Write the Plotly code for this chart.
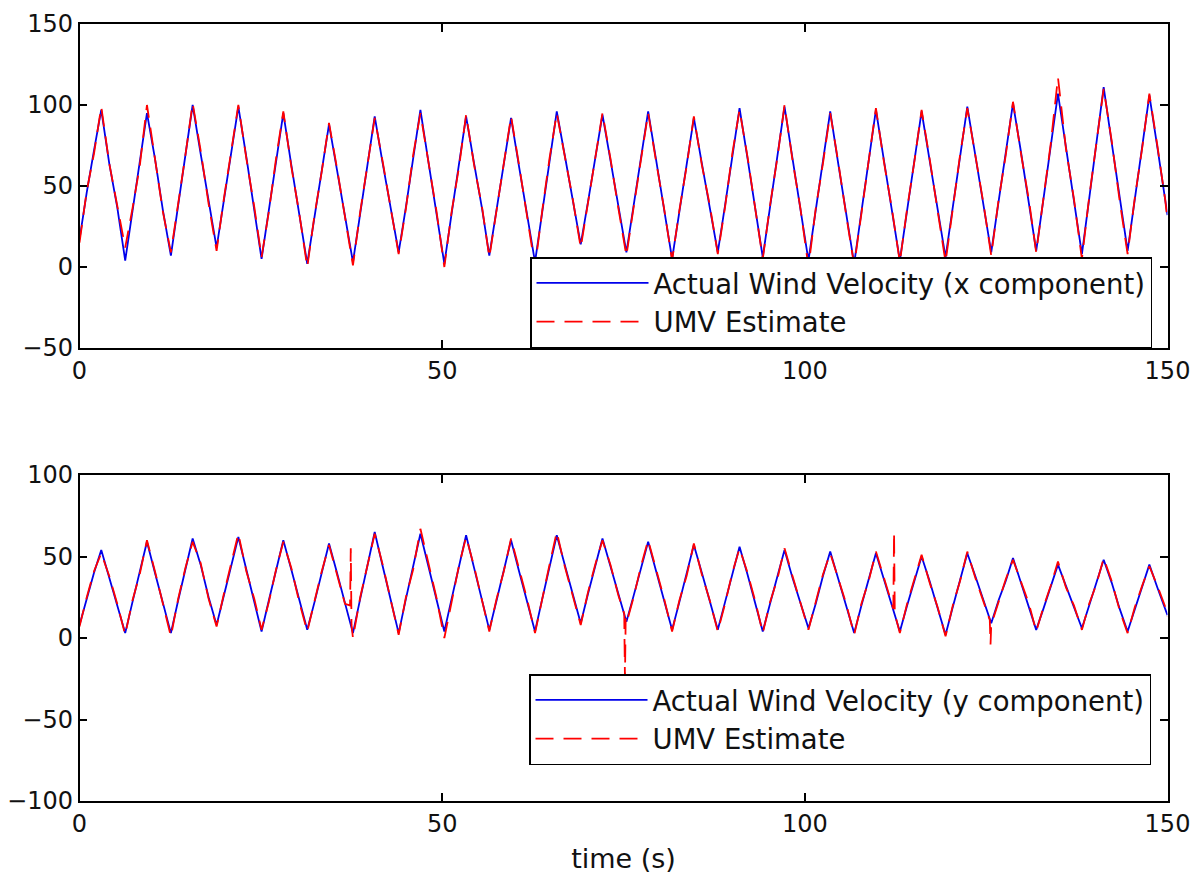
import plotly.graph_objects as go

# ---- top panel (x component) ----
t_x = [0.0, 1.0, 2.0, 3.0, 4.1, 5.2,
       6.3, 7.3, 8.3, 9.3, 10.4, 11.5,
       12.6, 13.6, 14.6, 15.6, 16.7, 17.8,
       18.9, 19.9, 20.9, 21.9, 23.0, 24.1,
       25.1, 26.1, 27.1, 28.1, 29.2, 30.3,
       31.4, 32.4, 33.4, 34.4, 35.5, 36.6,
       37.7, 38.7, 39.7, 40.7, 41.8, 42.9,
       44.0, 45.0, 46.0, 47.0, 48.1, 49.2,
       50.3, 51.3, 52.3, 53.3, 54.4, 55.5,
       56.5, 57.5, 58.5, 59.5, 60.6, 61.7,
       62.8, 63.8, 64.8, 65.8, 66.9, 68.0,
       69.1, 70.1, 71.1, 72.1, 73.2, 74.3,
       75.4, 76.4, 77.4, 78.4, 79.5, 80.6,
       81.7, 82.7, 83.7, 84.7, 85.8, 86.9,
       88.0, 89.0, 90.0, 91.0, 92.1, 93.2,
       94.2, 95.2, 96.2, 97.2, 98.3, 99.4,
       100.5, 101.5, 102.5, 103.5, 104.6, 105.7,
       106.8, 107.8, 108.8, 109.8, 110.9, 112.0,
       113.1, 114.1, 115.1, 116.1, 117.2, 118.3,
       119.4, 120.4, 121.4, 122.4, 123.5, 124.6,
       125.7, 126.7, 127.7, 128.7, 129.8, 130.9,
       131.9, 132.9, 133.9, 134.9, 136.0, 137.1,
       138.2, 139.2, 140.2, 141.2, 142.3, 143.4,
       144.5, 145.5, 146.5, 147.5, 148.6, 149.7,
       150.0]

actual_x = [17, 46, 72, 97, 64, 37,
            4, 34, 63, 95, 67, 35,
            7, 37, 70, 100, 70, 41,
            12, 41, 70, 99, 68, 36,
            5, 35, 66, 95, 63, 32,
            2, 31, 60, 88, 60, 31,
            3, 33, 62, 93, 64, 37,
            9, 37, 68, 97, 65, 34,
            2, 33, 62, 93, 64, 36,
            7, 35, 65, 92, 62, 32,
            3, 34, 66, 96, 69, 41,
            14, 40, 68, 94, 66, 37,
            9, 38, 66, 96, 66, 35,
            5, 34, 63, 92, 64, 37,
            9, 38, 69, 98, 67, 36,
            6, 37, 68, 99, 67, 35,
            4, 35, 65, 96, 64, 33,
            2, 34, 65, 97, 66, 35,
            4, 35, 66, 96, 66, 36,
            6, 37, 68, 99, 69, 39,
            9, 40, 70, 101, 71, 40,
            10, 42, 75, 107, 74, 41,
            8, 42, 77, 111, 77, 42,
            10, 42, 74, 106, 74, 42,
            32]

umv_x = [15, 47, 70, 99, 64, 38,
         12, 36, 62, 100, 66, 34,
         9, 38, 69, 101, 72, 39,
         10, 42, 71, 100, 67, 37,
         6, 34, 67, 96, 62, 33,
         0, 32, 59, 89, 61, 30,
         1, 34, 63, 92, 65, 36,
         8, 36, 69, 95, 64, 35,
         0, 34, 61, 94, 63, 37,
         6, 36, 64, 93, 63, 31,
         0, 35, 67, 95, 68, 42,
         12, 41, 67, 95, 67, 36,
         7, 37, 67, 95, 65, 36,
         4, 35, 62, 93, 63, 38,
         8, 37, 70, 97, 68, 35,
         5, 38, 67, 100, 66, 36,
         0, 36, 64, 95, 65, 32,
         1, 33, 66, 98, 65, 36,
         3, 36, 65, 97, 67, 35,
         3, 36, 69, 98, 68, 40,
         7, 41, 69, 102, 70, 41,
         9, 41, 76, 117, 73, 42,
         5, 43, 76, 110, 78, 41,
         8, 43, 73, 107, 75, 41,
         28]

# ---- bottom panel (y component) ----
t_y = [0.0, 1.0, 2.0, 3.0, 4.1, 5.2,
       6.3, 7.3, 8.3, 9.3, 10.4, 11.5,
       12.6, 13.6, 14.6, 15.6, 16.7, 17.8,
       18.9, 19.9, 20.9, 21.9, 23.0, 24.1,
       25.1, 26.1, 27.1, 28.1, 29.2, 30.3,
       31.4, 32.4, 33.4, 34.4, 35.5, 36.6, 37.3, 37.4, 37.5,
       37.7, 38.7, 39.7, 40.7, 41.8, 42.9,
       44.0, 45.0, 46.0, 47.0, 48.1, 49.2,
       50.3, 51.3, 52.3, 53.3, 54.4, 55.5,
       56.5, 57.5, 58.5, 59.5, 60.6, 61.7,
       62.8, 63.8, 64.8, 65.8, 66.9, 68.0,
       69.1, 70.1, 71.1, 72.1, 73.2, 74.3, 75.1, 75.2, 75.3,
       75.4, 76.4, 77.4, 78.4, 79.5, 80.6,
       81.7, 82.7, 83.7, 84.7, 85.8, 86.9,
       88.0, 89.0, 90.0, 91.0, 92.1, 93.2,
       94.2, 95.2, 96.2, 97.2, 98.3, 99.4,
       100.5, 101.5, 102.5, 103.5, 104.6, 105.7,
       106.8, 107.8, 108.8, 109.8, 110.9, 112.0, 112.2, 112.3, 112.4,
       113.1, 114.1, 115.1, 116.1, 117.2, 118.3,
       119.4, 120.4, 121.4, 122.4, 123.5, 124.6, 125.5, 125.6,
       125.7, 126.7, 127.7, 128.7, 129.8, 130.9,
       131.9, 132.9, 133.9, 134.9, 136.0, 137.1,
       138.2, 139.2, 140.2, 141.2, 142.3, 143.4,
       144.5, 145.5, 146.5, 147.5, 148.6, 149.7,
       150.0]

actual_y = [8, 24, 40, 54, 37, 20,
            3, 22, 40, 59, 40, 22,
            3, 23, 42, 61, 45, 25,
            8, 26, 44, 62, 42, 23,
            4, 23, 41, 60, 42, 23,
            5, 22, 40, 58, 40, 21, 10, 8, 6,
            3, 24, 45, 65, 44, 24,
            3, 24, 43, 64, 44, 24,
            4, 24, 43, 63, 43, 24,
            5, 23, 42, 60, 41, 23,
            4, 24, 44, 63, 45, 27,
            9, 27, 44, 61, 44, 27, 15, 13, 12,
            10, 26, 43, 59, 41, 23,
            5, 22, 39, 57, 40, 22,
            5, 22, 39, 56, 39, 21,
            4, 21, 37, 54, 37, 22,
            6, 21, 38, 53, 36, 20,
            3, 20, 36, 52, 36, 20, 17, 16, 14,
            4, 20, 35, 50, 35, 18,
            2, 19, 36, 52, 38, 23, 11, 10,
            9, 23, 35, 49, 34, 20,
            5, 18, 31, 45, 32, 19,
            6, 20, 34, 48, 34, 18,
            4, 18, 31, 45, 31, 18,
            14]

umv_y = [7, 25, 41, 52, 38, 21,
         2, 23, 39, 60, 41, 21,
         1, 24, 43, 59, 46, 24,
         7, 27, 45, 64, 41, 24,
         5, 22, 42, 59, 43, 22,
         4, 23, 41, 57, 39, 21, 20, 55, 8,
         0, 25, 44, 64, 45, 23,
         2, 25, 42, 67, 45, 25,
         0, 23, 44, 62, 44, 23,
         4, 24, 41, 61, 42, 24,
         3, 25, 45, 65, 44, 26,
         8, 28, 45, 60, 45, 26, 15, -25, 12,
         9, 25, 44, 60, 42, 24,
         4, 23, 38, 58, 39, 23,
         4, 21, 40, 55, 40, 22,
         3, 22, 36, 55, 38, 21,
         5, 22, 39, 52, 37, 21,
         2, 21, 35, 53, 37, 21, 18, 65, 15,
         3, 21, 36, 51, 34, 19,
         1, 20, 35, 53, 37, 22, 11, -4,
         8, 22, 36, 48, 35, 21,
         4, 19, 32, 47, 31, 20,
         5, 21, 33, 49, 35, 17,
         3, 19, 32, 44, 32, 19,
         13]

x_ticks = [0, 50, 100, 150]
top_y_ticks = [-50, 0, 50, 100, 150]
bot_y_ticks = [-100, -50, 0, 50, 100]

W, H = 1197, 879
FONT = "DejaVu Sans, Verdana, sans-serif"
BLUE = "rgb(0,0,235)"
RED = "rgb(255,0,0)"

fig = go.Figure()
fig.add_trace(go.Scatter(x=t_x, y=actual_x, mode="lines", name="Actual Wind Velocity (x component)",
                         line=dict(color=BLUE, width=1.8), xaxis="x", yaxis="y", legend="legend"))
fig.add_trace(go.Scatter(x=t_x, y=umv_x, mode="lines", name="UMV Estimate",
                         line=dict(color=RED, width=1.8, dash="18px,10px"), xaxis="x", yaxis="y", legend="legend"))
fig.add_trace(go.Scatter(x=t_y, y=actual_y, mode="lines", name="Actual Wind Velocity (y component)",
                         line=dict(color=BLUE, width=1.8), xaxis="x2", yaxis="y2", legend="legend2"))
fig.add_trace(go.Scatter(x=t_y, y=umv_y, mode="lines", name="UMV Estimate",
                         line=dict(color=RED, width=1.8, dash="18px,10px"), xaxis="x2", yaxis="y2", legend="legend2"))

x0, x1 = 79.5 / W, 1167.5 / W
axis_common = dict(showline=True, linecolor="black", linewidth=1.5, mirror="ticks",
                   ticks="inside", ticklen=8, tickwidth=1.5, tickcolor="black",
                   showgrid=False, zeroline=False, automargin=False,
                   tickfont=dict(family=FONT, size=24, color="#111111"))

legend_common = dict(bgcolor="white", bordercolor="black", borderwidth=1.5,
                     font=dict(family=FONT, size=27.5, color="#111111"),
                     xanchor="right", yanchor="bottom", itemwidth=112,
                     tracegroupgap=0)

fig.update_layout(
    width=W, height=H,
    margin=dict(l=0, r=0, t=0, b=0),
    paper_bgcolor="white", plot_bgcolor="white",
    xaxis=dict(domain=[x0, x1], range=[0, 150], tickvals=x_ticks, anchor="y", **axis_common),
    yaxis=dict(domain=[1 - 348 / H, 1 - 24 / H], range=[-50, 150], tickvals=top_y_ticks,
               anchor="x", **axis_common),
    xaxis2=dict(domain=[x0, x1], range=[0, 150], tickvals=x_ticks, anchor="y2",
                title=dict(text="time (s)", font=dict(family=FONT, size=27, color="#111111"), standoff=13),
                **axis_common),
    yaxis2=dict(domain=[1 - 801 / H, 1 - 475 / H], range=[-100, 100], tickvals=bot_y_ticks,
                anchor="x2", **axis_common),
    legend=dict(x=1152 / W, y=1 - 348 / H, **legend_common),
    legend2=dict(x=1151 / W, y=1 - 765 / H, **legend_common),
    showlegend=True,
)

fig.write_html("out.html")
